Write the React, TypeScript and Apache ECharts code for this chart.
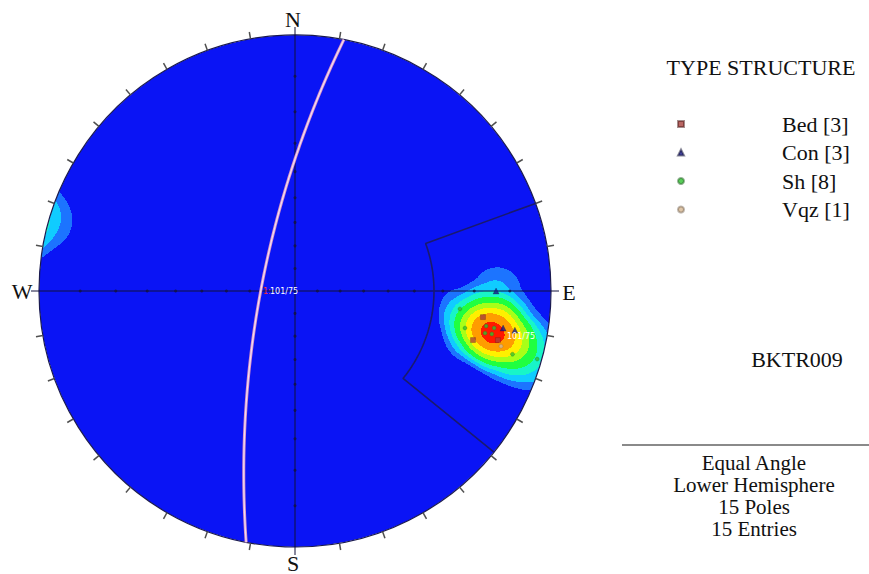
import React, { useEffect, useRef } from "react";
import * as echarts from "echarts";

// ---------- data ----------
const legendTitle = "TYPE STRUCTURE";
const legendNames = ["Bed [3]", "Con [3]", "Sh [8]", "Vqz [1]"];
// poles as [trend, plunge] in degrees
const bedPoles: number[][] = [[97.9, 16.9], [105.4, 18.4], [103.6, 11.6]];
const conPoles: number[][] = [[100.1, 10.9], [100.1, 7.8], [90.0, 13.7]];
const shPoles: number[][] = [[96.2, 24.1], [102.3, 21.6], [105.7, 1.0], [106.2, 7.0], [100.4, 15.6], [102.3, 13.6], [102.5, 15.5], [100.5, 13.3]];
const vqzPoles: number[][] = [[105.0, 10.4]];
// mean plane: [dip direction, dip]
const meanPlane = [281, 75];
const planeLabelSet = "1:";
const planeLabelValue = "101/75";
// set window: [trend min, trend max, plunge max]
const setWindow = [70, 129, 33];
// density contour thresholds and band colours
const contourLevels = [0.46, 0.88, 1.4, 2.1, 3.2, 4.4, 5.8, 7.6];
const contourColors = ["#1c74ff", "#10ccff", "#18f5c8", "#20ff40", "#a8ff18", "#fff000", "#ff9c00", "#ff1800"];
const kernelRadiusDeg = 11.5;
const axisPlunges = [10, 20, 30, 40, 50, 60, 70, 80];
const axisTrends = [0, 90, 180, 270];
const compassLabels = ["N", "E", "S", "W"];
const sampleName = "BKTR009";
const infoLines = ["Equal Angle", "Lower Hemisphere", "15 Poles", "15 Entries"];

// ---------- geometry ----------
const D2R = Math.PI / 180;
function project(trend: number, plunge: number): number[] {
  const t = trend * D2R;
  const r = Math.tan((Math.PI / 2 - plunge * D2R) / 2);
  return [r * Math.sin(t), r * Math.cos(t)];
}
function toVec(trend: number, plunge: number): number[] {
  const t = trend * D2R, p = plunge * D2R;
  return [Math.cos(p) * Math.sin(t), Math.cos(p) * Math.cos(t), Math.sin(p)];
}
function projVec(v: number[]): number[] {
  let [x, y, z] = v;
  if (z < 0) { x = -x; y = -y; z = -z; }
  return [x / (1 + z), y / (1 + z)];
}

const allPoles = [...bedPoles, ...conPoles, ...shPoles, ...vqzPoles];
const poleVecs = allPoles.map((p) => toVec(p[0], p[1]));
const H = kernelRadiusDeg * D2R;
const cosH = Math.cos(H);
function density(v: number[]): number {
  let s = 0;
  for (const n of poleVecs) {
    const c = Math.min(1, Math.abs(n[0] * v[0] + n[1] * v[1] + n[2] * v[2]));
    if (c < cosH) continue;
    const u = Math.acos(c) / H;
    s += (1 - u * u) * (1 - u * u);
  }
  return s;
}
function levelAt(X: number, Y: number): number {
  let x = X, y = Y;
  const r = Math.sqrt(x * x + y * y);
  if (r > 1) { x /= r; y /= r; }
  const r2 = x * x + y * y;
  const d = density([(2 * x) / (1 + r2), (2 * y) / (1 + r2), (1 - r2) / (1 + r2)]);
  let lv = 0;
  for (const L of contourLevels) if (d >= L) lv++;
  return lv;
}

// density bands sampled on a 1-px raster of the data square, stored as horizontal runs
const N = 512;
const STEP = 2 / N;
function buildRuns(): number[][] {
  const runs: number[][] = [];
  for (let j = 0; j < N; j++) {
    const Y = 1 - (j + 0.5) * STEP;
    let cur = 0, start = 0;
    for (let i = 0; i <= N; i++) {
      let lv = 0;
      if (i < N) {
        const X = -1 + (i + 0.5) * STEP;
        if (X * X + Y * Y <= (1 + 2 * STEP) * (1 + 2 * STEP)) lv = levelAt(X, Y);
      }
      if (lv !== cur) {
        if (cur > 0) runs.push([-1 + start * STEP, -1 + i * STEP, Y, cur]);
        cur = lv; start = i;
      }
    }
  }
  return runs;
}

function greatCircle(dipDir: number, dip: number): number[][] {
  const s = toVec(dipDir - 90, 0);
  const d = toVec(dipDir, dip);
  const pts: number[][] = [];
  for (let a = 0; a <= 180; a += 1) {
    const ca = Math.cos(a * D2R), sa = Math.sin(a * D2R);
    pts.push(projVec([ca * s[0] + sa * d[0], ca * s[1] + sa * d[1], ca * s[2] + sa * d[2]]));
  }
  return pts;
}

function windowOutline(): number[][] {
  const [t0, t1, pm] = setWindow;
  const pts: number[][] = [project(t0, 0)];
  for (let t = t0; t <= t1; t += 1) pts.push(project(t, pm));
  pts.push(project(t1, 0));
  return pts;
}

const serif = "'Liberation Serif', 'Times New Roman', serif";
function txt(text: string, x: number, y: number, size = 22, align = "center", fill = "#111", family = serif, lineHeight?: number) {
  const style: any = { text, fill, fontSize: size, fontFamily: family, align, verticalAlign: "middle", textAlign: align, textVerticalAlign: "middle" };
  if (lineHeight) style.lineHeight = lineHeight;
  return { type: "text", x, y, z: 100, silent: true, style };
}

function buildOption() {
  const runs = buildRuns();
  const gc = greatCircle(meanPlane[0], meanPlane[1]);
  const axisDots: number[][] = [];
  for (const t of axisTrends) for (const p of axisPlunges) axisDots.push(project(t, p));

  const poleSeries = (name: string, poles: number[][], symbol: string, size: number, color: string, z: number, border: string) => ({
    name, type: "scatter", data: poles.map((p) => project(p[0], p[1])), symbol, symbolSize: size,
    itemStyle: { color, borderColor: border, borderWidth: 0.5 }, z, silent: true,
  });

  return {
    animation: false,
    backgroundColor: "#ffffff",
    grid: { left: 39, top: 35, width: 512, height: 512 },
    xAxis: { type: "value", min: -1, max: 1, show: false },
    yAxis: { type: "value", min: -1, max: 1, show: false },
    legend: {
      data: legendNames, orient: "vertical", left: 677, top: 113, padding: 0, itemGap: 6.5,
      itemWidth: 6, itemHeight: 6, selectedMode: false,
      textStyle: { fontFamily: serif, fontSize: 22, color: "#111", lineHeight: 22, padding: [0, 0, 0, 93] },
    },
    series: [
      {
        type: "custom", name: "primitive", data: [[0, 0]], z: 1, silent: true,
        renderItem: (params: any, api: any) => {
          const c = api.coord([0, 0]);
          const R = api.size([1, 1])[0];
          return { type: "circle", shape: { cx: c[0], cy: c[1], r: R }, style: { fill: "#0a14f5" } };
        },
      },
      {
        type: "custom", name: "density", data: runs, z: 2, silent: true,
        encode: { x: [0, 1], y: 2 },
        renderItem: (params: any, api: any) => {
          const x0 = api.value(0), x1 = api.value(1), y = api.value(2), lv = api.value(3);
          const p0 = api.coord([x0, y + STEP / 2]);
          const p1 = api.coord([x1, y - STEP / 2]);
          return { type: "rect", shape: { x: p0[0], y: p0[1], width: p1[0] - p0[0], height: p1[1] - p0[1] }, style: { fill: contourColors[lv - 1], lineWidth: 0 } };
        },
      },
      {
        type: "custom", name: "frame", data: [[0, 0]], z: 3, silent: true,
        renderItem: (params: any, api: any) => {
          const c = api.coord([0, 0]);
          const R = api.size([1, 1])[0];
          const children: any[] = [];
          children.push({ type: "ring", shape: { cx: c[0], cy: c[1], r: R + 6, r0: R }, style: { fill: "#ffffff" } });
          children.push({ type: "circle", shape: { cx: c[0], cy: c[1], r: R }, style: { fill: "none", stroke: "#1a1a50", lineWidth: 1.2 } });
          const ext = 8;
          children.push({ type: "line", shape: { x1: c[0], y1: c[1] - R - ext, x2: c[0], y2: c[1] + R + ext }, style: { stroke: "#10103a", lineWidth: 1 } });
          children.push({ type: "line", shape: { x1: c[0] - R - ext, y1: c[1], x2: c[0] + R + ext, y2: c[1] }, style: { stroke: "#10103a", lineWidth: 1 } });
          for (let a = 10; a < 360; a += 10) {
            if (a % 90 === 0) continue;
            const sa = Math.sin(a * D2R), ca = Math.cos(a * D2R);
            children.push({
              type: "line",
              shape: { x1: c[0] + R * sa, y1: c[1] - R * ca, x2: c[0] + (R + 7) * sa, y2: c[1] - (R + 7) * ca },
              style: { stroke: "#505050", lineWidth: 1.5 },
            });
          }
          return { type: "group", children };
        },
      },
      {
        type: "line", name: "window", data: windowOutline(), showSymbol: false, z: 4, silent: true,
        lineStyle: { color: "#1a1a6e", width: 1.6 },
      },
      {
        type: "line", name: "plane-outer", data: gc, showSymbol: false, z: 4, silent: true,
        lineStyle: { color: "#d890c4", width: 3 },
      },
      {
        type: "line", name: "plane-inner", data: gc, showSymbol: false, z: 4, silent: true,
        lineStyle: { color: "#eedcf4", width: 1.3 },
      },
      {
        type: "scatter", name: "axis-dots", data: axisDots, symbolSize: 3, z: 5, silent: true,
        itemStyle: { color: "#14143c" },
      },
      poleSeries(legendNames[2], shPoles, "circle", 4, "#30c030", 6, "rgba(30,90,30,0.6)"),
      poleSeries(legendNames[0], bedPoles, "rect", 5, "#a8403c", 7, "rgba(70,20,20,0.6)"),
      poleSeries(legendNames[1], conPoles, "triangle", 6, "#18188a", 7, "rgba(10,10,40,0.6)"),
      poleSeries(legendNames[3], vqzPoles, "circle", 4, "#d6b894", 7, "rgba(90,70,50,0.5)"),
    ],
    graphic: [
      txt(compassLabels[0], 293, 19),
      txt(compassLabels[1], 569, 292),
      txt(compassLabels[2], 293, 563),
      txt(compassLabels[3], 22, 291),
      txt(legendTitle, 761, 67),
      txt(sampleName, 797, 359),
      { type: "line", z: 100, silent: true, shape: { x1: 622, y1: 445, x2: 869, y2: 445 }, style: { stroke: "#8a8a8a", lineWidth: 2 } },
      txt(infoLines.join("\n"), 754, 496, 21, "center", "#111", serif, 22),
      txt(planeLabelSet, 263, 291, 8, "left", "#ff3030", "'DejaVu Sans', sans-serif"),
      txt(planeLabelValue, 270, 291, 8, "left", "#ffffff", "'DejaVu Sans', sans-serif"),
      txt(planeLabelValue, 507, 336, 8, "left", "#ffffff", "'DejaVu Sans', sans-serif"),
    ],
  };
}

export default function App() {
  const ref = useRef<HTMLDivElement>(null);
  useEffect(() => {
    const chart = echarts.init(ref.current as HTMLDivElement, null, { renderer: "svg" });
    chart.setOption(buildOption() as any);
    return () => chart.dispose();
  }, []);
  return <div ref={ref} style={{ position: "absolute", left: 0, top: 0, width: 869, height: 574 }} />;
}
